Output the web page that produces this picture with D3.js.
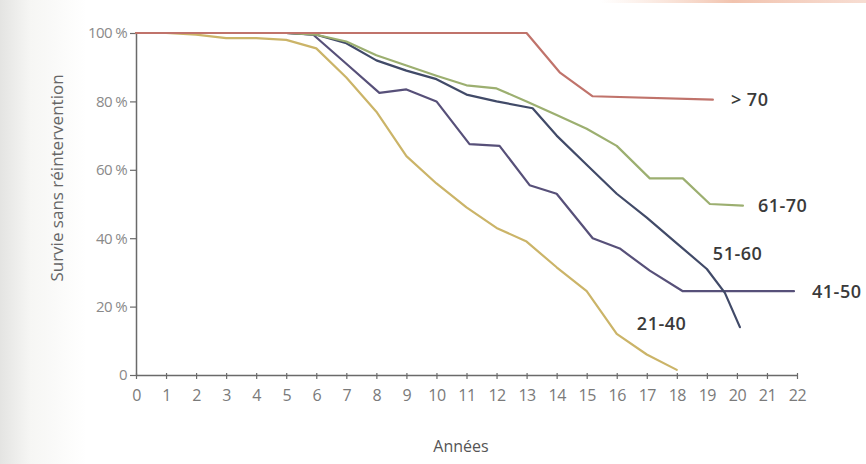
<!DOCTYPE html>
<html><head><meta charset="utf-8">
<script src="https://cdn.jsdelivr.net/npm/d3@7"></script>
<style>
html,body{margin:0;padding:0;background:#fff;}
svg{display:block;}
</style></head>
<body>
<svg id="chart" width="866" height="464"></svg>
<script>
// ---- data ----
const xTicks = d3.range(0, 23);
const yTicks = [0, 20, 40, 60, 80, 100];
const yTickLabels = ["0", "20 %", "40 %", "60 %", "80 %", "100 %"];

const names = ["21-40", "41-50", "51-60", "61-70", "> 70"];
const colors = ["#cbb468", "#575079", "#414a68", "#9caf70", "#c0736b"];

const t2140 = [0,1,2,3,4,5,6,7,8,9,10,11,12,13,14,15,16,17,18];
const v2140 = [100,100,99.5,98.5,98.5,98,95.5,87,77,64,56,49,43,39,31.5,24.5,12,6,1.5];

const t4150 = [0,1,2,3,4,5,5.9,7,8.1,9,10,11.1,12.1,13.1,14,15.2,16.1,17.1,18.2,21.9];
const v4150 = [100,100,100,100,100,100,99.5,91,82.5,83.5,80,67.5,67,55.5,53,40,37,30.5,24.5,24.5];

const t5160 = [0,1,2,3,4,5,6,7,8,9,10,11,12,13.2,14,15,16,17,18,19,19.6,20.1];
const v5160 = [100,100,100,100,100,100,99.5,97,92,89,86.5,82,80,78,70,61.5,53,46,38.5,31,24,14];

const t6170 = [0,1,2,3,4,5,6,7,8,9,10,11,12,13,14,15,16,17.1,18.2,19.1,20.2];
const v6170 = [100,100,100,100,100,100,99.5,97.5,93.5,90.5,87.5,84.7,83.8,80,76,72,67,57.5,57.5,50,49.5];

const t70 = [0,13,14.1,15.2,19.2];
const v70 = [100,100,88.5,81.5,80.5];

const seriesT = [t2140, t4150, t5160, t6170, t70];
const seriesV = [v2140, v4150, v5160, v6170, v70];

// label anchors in data units (year, %)
const labelT = [16.67, 22.5, 19.2, 20.7, 19.8];
const labelV = [15, 24.5, 35.5, 49.5, 80.5];

// ---- drawing ----
const svg = d3.select("#chart");
const defs = svg.append("defs");
const g1 = defs.append("linearGradient").attr("id","bg").attr("x1","0").attr("x2","1");
g1.append("stop").attr("offset","0").attr("stop-color","#e4e4e2");
g1.append("stop").attr("offset","0.035").attr("stop-color","#f6f6f4");
g1.append("stop").attr("offset","0.1").attr("stop-color","#ffffff");
svg.append("rect").attr("width",866).attr("height",464).attr("fill","url(#bg)");
const g2 = defs.append("linearGradient").attr("id","topline").attr("x1","0").attr("x2","1");
g2.append("stop").attr("offset","0").attr("stop-color","#f4c8b0").attr("stop-opacity",0);
g2.append("stop").attr("offset","0.5").attr("stop-color","#eeb49a").attr("stop-opacity",0.8);
g2.append("stop").attr("offset","1").attr("stop-color","#f2c6b4").attr("stop-opacity",0.6);
svg.append("rect").attr("x",600).attr("y",0).attr("width",266).attr("height",3).attr("fill","url(#topline)");

const x = d3.scaleLinear().domain([0, 22]).range([136, 797]);
const y = d3.scaleLinear().domain([0, 100]).range([375, 33]);

const tickFont = "'Open Sans', sans-serif";

// x axis
const xAxis = svg.append("g").attr("transform", `translate(0,${y(0)})`)
  .call(d3.axisBottom(x).tickValues(xTicks).tickFormat(d3.format("d")).tickSize(4).tickPadding(11).tickSizeOuter(0));
xAxis.select(".domain").attr("stroke","#6a6a6a").attr("stroke-width",1.5);
xAxis.selectAll(".tick line").attr("stroke","#6a6a6a").attr("stroke-width",1.2).attr("y1",-2);
xAxis.selectAll(".tick text").attr("fill","#7a7a7a").style("font-family",tickFont).style("font-size","16px").style("letter-spacing","-0.5px");

// y axis
const yAxis = svg.append("g").attr("transform", `translate(${x(0)},0)`)
  .call(d3.axisLeft(y).tickValues(yTicks).tickFormat((d,i)=>yTickLabels[i]).tickSize(6).tickPadding(3).tickSizeOuter(0));
yAxis.select(".domain").attr("stroke","#6a6a6a").attr("stroke-width",1.5);
yAxis.selectAll(".tick line").attr("stroke","#6a6a6a").attr("stroke-width",1.2);
yAxis.selectAll(".tick text").attr("fill","#8a8a8a").style("font-family",tickFont).style("font-size","15px").style("letter-spacing","-0.6px");

// titles
svg.append("text").attr("x", 461).attr("y", 452).attr("text-anchor","middle")
  .attr("fill","#555").style("font-family",tickFont).style("font-size","16px").text("Années");
svg.append("text").attr("transform","translate(63,178) rotate(-90)").attr("text-anchor","middle")
  .attr("fill","#666").style("font-family",tickFont).style("font-size","17px").text("Survie sans réintervention");

// lines
const line = d3.line().x(d=>x(d[0])).y(d=>y(d[1]));
names.forEach((n,i)=>{
  const pts = seriesT[i].map((t,j)=>[t, seriesV[i][j]]);
  svg.append("path").datum(pts).attr("d", line)
    .attr("fill","none").attr("stroke",colors[i]).attr("stroke-width",2.2)
    .attr("stroke-linejoin","round").attr("stroke-linecap","round");
});

// series labels
names.forEach((n,i)=>{
  svg.append("text").attr("x", x(labelT[i])).attr("y", y(labelV[i])).attr("dy","0.35em")
    .attr("fill","#3a3a3a").style("font-family",tickFont).style("font-size","18px")
    .style("font-weight","600").style("letter-spacing","0.5px").text(n);
});
</script>
</body></html>
